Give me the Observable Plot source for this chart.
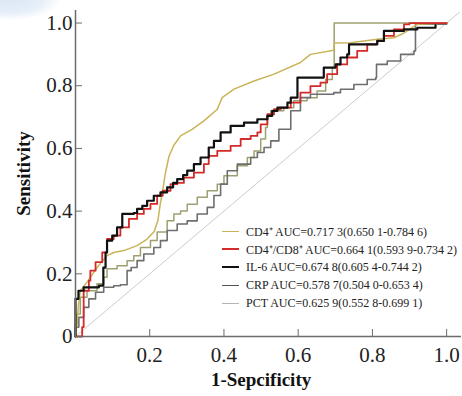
<!DOCTYPE html>
<html><head><meta charset="utf-8">
<script src="https://cdn.jsdelivr.net/npm/d3@7"></script>
<script src="https://cdn.jsdelivr.net/npm/@observablehq/plot@0.6"></script>
<style>
body{margin:0;background:#fff;}
#wrap{position:relative;width:462px;height:396px;overflow:hidden;background:#fff;}
#blob{position:absolute;left:-40px;top:-22px;width:100px;height:42px;border-radius:50%;background:radial-gradient(ellipse at center,#dbe6f5 0%,#e6eef9 45%,rgba(255,255,255,0) 72%);}
#legend{position:absolute;left:222px;top:222px;font-family:"Liberation Serif",serif;font-size:12px;color:#222;}
.row{height:18px;display:flex;align-items:center;white-space:nowrap;}
.sw{width:17px;margin-right:7px;}
#chart{position:absolute;left:0;top:0;}
</style></head>
<body>
<div id="wrap"><div id="blob"></div><div id="chart"></div><div id="legend"></div></div>
<script>
// ROC curves: [1-specificity, sensitivity]
const cd4 = [[0,0],[0.004,0.04],[0.008,0.10],[0.013,0.146],[0.032,0.175],[0.058,0.22],[0.085,0.258],[0.103,0.268],[0.13,0.274],[0.166,0.29],[0.193,0.311],[0.212,0.335],[0.222,0.37],[0.228,0.42],[0.234,0.46],[0.242,0.52],[0.252,0.575],[0.265,0.61],[0.283,0.64],[0.314,0.661],[0.346,0.688],[0.382,0.725],[0.395,0.762],[0.427,0.789],[0.481,0.815],[0.535,0.837],[0.606,0.874],[0.633,0.9],[0.696,0.913],[0.697,0.936],[0.741,0.937],[0.813,0.948],[0.858,0.953],[0.88,0.965],[0.921,0.996],[1,1]];
const cd4cd8 = [[0,0],[0.012,0],[0.018,0.03],[0.022,0.146],[0.036,0.178],[0.04,0.21],[0.054,0.237],[0.072,0.268],[0.085,0.311],[0.103,0.322],[0.121,0.348],[0.144,0.375],[0.166,0.391],[0.184,0.407],[0.202,0.423],[0.22,0.449],[0.235,0.465],[0.256,0.486],[0.274,0.49],[0.292,0.507],[0.319,0.523],[0.346,0.55],[0.359,0.576],[0.382,0.592],[0.418,0.608],[0.445,0.63],[0.472,0.64],[0.49,0.651],[0.499,0.677],[0.517,0.709],[0.535,0.725],[0.553,0.73],[0.58,0.746],[0.606,0.778],[0.633,0.799],[0.66,0.81],[0.678,0.837],[0.705,0.868],[0.732,0.89],[0.759,0.911],[0.786,0.932],[0.813,0.943],[0.831,0.959],[0.858,0.98],[0.885,0.996],[0.9,1],[1,1]];
const il6 = [[0,0],[0,0.12],[0.008,0.146],[0.022,0.157],[0.063,0.162],[0.075,0.22],[0.081,0.268],[0.085,0.306],[0.099,0.322],[0.112,0.348],[0.126,0.391],[0.157,0.394],[0.166,0.407],[0.18,0.417],[0.193,0.433],[0.211,0.449],[0.229,0.46],[0.247,0.476],[0.263,0.49],[0.274,0.502],[0.29,0.515],[0.301,0.529],[0.319,0.55],[0.337,0.571],[0.359,0.603],[0.373,0.624],[0.391,0.651],[0.418,0.672],[0.454,0.682],[0.49,0.693],[0.517,0.704],[0.53,0.72],[0.544,0.73],[0.571,0.746],[0.58,0.762],[0.598,0.826],[0.669,0.858],[0.701,0.868],[0.714,0.89],[0.732,0.9],[0.737,0.932],[0.813,0.943],[0.831,0.975],[0.885,0.98],[0.921,0.985],[0.97,0.993]];
const crp = [[0,0],[0,0.03],[0.009,0.061],[0.022,0.093],[0.036,0.12],[0.054,0.141],[0.076,0.157],[0.103,0.162],[0.121,0.165],[0.139,0.21],[0.15,0.22],[0.166,0.242],[0.184,0.263],[0.211,0.284],[0.229,0.306],[0.247,0.338],[0.274,0.359],[0.301,0.369],[0.328,0.391],[0.355,0.412],[0.373,0.45],[0.391,0.486],[0.409,0.529],[0.436,0.55],[0.472,0.571],[0.49,0.587],[0.508,0.603],[0.526,0.624],[0.548,0.661],[0.58,0.72],[0.606,0.762],[0.633,0.773],[0.696,0.778],[0.714,0.789],[0.75,0.804],[0.786,0.82],[0.809,0.826],[0.811,0.868],[0.84,0.879],[0.876,0.9],[0.912,0.911],[0.916,0.996],[1,1]];
const pct = [[0,0],[0,0.04],[0.004,0.072],[0.013,0.125],[0.031,0.146],[0.058,0.168],[0.076,0.189],[0.085,0.216],[0.112,0.226],[0.139,0.242],[0.157,0.258],[0.175,0.284],[0.202,0.306],[0.22,0.333],[0.247,0.369],[0.265,0.391],[0.283,0.4],[0.301,0.422],[0.328,0.444],[0.355,0.465],[0.382,0.486],[0.4,0.513],[0.436,0.545],[0.463,0.571],[0.481,0.592],[0.499,0.63],[0.512,0.667],[0.517,0.704],[0.526,0.72],[0.561,0.73],[0.588,0.752],[0.624,0.762],[0.651,0.783],[0.674,0.82],[0.692,0.858],[0.697,1],[1,1]];
const diagonal = [[0,0],[1.035,1.035]];

const seriesNames = ["CD4\u207A AUC=0.717 3(0.650 1-0.784 6)","CD4\u207A/CD8\u207A AUC=0.664 1(0.593 9-0.734 2)","IL-6 AUC=0.674 8(0.605 4-0.744 2)","CRP AUC=0.578 7(0.504 0-0.653 4)","PCT AUC=0.625 9(0.552 8-0.699 1)"];
const lineColors = ["#c9b458","#d42a2a","#111111","#6e6e6e","#9ea070"];
const legendColors = ["#c9b458","#d42a2a","#111111","#555555","#b3b3b3"];
const lineWidths = [1.5,1.8,2.2,1.6,1.5];
const xTicks = [0.2,0.4,0.6,0.8,1.0];
const yTicks = [0,0.2,0.4,0.6,0.8,1.0];

const axisColor = "#6b6b6b";
const chart = Plot.plot({
  width: 462, height: 396,
  marginLeft: 75, marginRight: 1, marginTop: 10, marginBottom: 60,
  x: {domain: [0, 1.04]},
  y: {domain: [0, 1.04]},
  style: {fontFamily: "'Liberation Serif', serif", background: "transparent", color: "#222"},
  marks: [
    Plot.line(diagonal, {stroke: "#cccccc", strokeWidth: 1}),
    Plot.line(pct, {stroke: lineColors[4], strokeWidth: lineWidths[4], curve: "step-after"}),
    Plot.line(crp, {stroke: lineColors[3], strokeWidth: lineWidths[3], curve: "step-after"}),
    Plot.line(cd4, {stroke: lineColors[0], strokeWidth: lineWidths[0]}),
    Plot.line(cd4cd8, {stroke: lineColors[1], strokeWidth: lineWidths[1], curve: "step-after"}),
    Plot.line(il6, {stroke: lineColors[2], strokeWidth: lineWidths[2], curve: "step-after"}),
    Plot.ruleX([0], {stroke: axisColor, strokeWidth: 1.5}),
    Plot.ruleY([0], {stroke: axisColor, strokeWidth: 1.5}),
    Plot.axisX({ticks: xTicks, tickSize: -7, tickPadding: 18, fontSize: 21, tickFormat: d => d.toFixed(1), stroke: axisColor, fill: "#222", label: null}),
    Plot.axisY({ticks: yTicks, tickSize: -7, tickPadding: 10, fontSize: 21, tickFormat: d => d === 0 ? "0" : d.toFixed(1), stroke: axisColor, fill: "#222", label: null}),
    Plot.text([{x: 0.5, t: "1-Sepcificity"}], {x: "x", text: "t", frameAnchor: "bottom", dy: 49, fontSize: 19, fontWeight: "bold", fill: "#111"}),
    Plot.text([{t: "Sensitivity"}], {text: "t", frameAnchor: "left", textAnchor: "middle", rotate: -90, dx: -52, fontSize: 19, fontWeight: "bold", fill: "#111"})
  ]
});
document.getElementById("chart").appendChild(chart);

const legend = document.getElementById("legend");
seriesNames.forEach((name, i) => {
  const row = document.createElement("div");
  row.className = "row";
  const sw = document.createElement("span");
  sw.className = "sw";
  sw.style.borderTop = `${Math.max(1.5, lineWidths[i] + 0.3)}px solid ${legendColors[i]}`;
  const tx = document.createElement("span");
  tx.textContent = name;
  row.appendChild(sw); row.appendChild(tx);
  legend.appendChild(row);
});
</script>
</body></html>
